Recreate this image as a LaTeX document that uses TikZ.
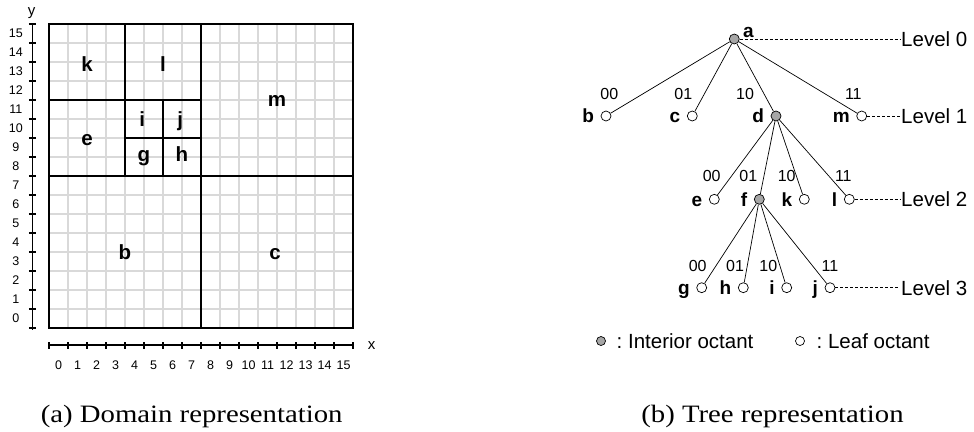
\documentclass[tikz,border=0pt]{standalone}
\usepackage{fontspec}
\setmainfont{Liberation Serif}
\setsansfont{Liberation Sans}
\usetikzlibrary{positioning}
\definecolor{gridgray}{RGB}{217,217,217}
\frenchspacing

\begin{document}
\begin{tikzpicture}[
    x=1pt, y=-1pt,
    leaf node/.style={circle, draw, fill=white, minimum size=10pt, inner sep=0pt, line width=0.7pt},
    inner node/.style={leaf node, fill=gray!70},
    name label/.style={font=\sffamily\bfseries\fontsize{19}{21}\selectfont, inner sep=0pt, text height=13.5pt, text depth=0pt},
    region label/.style={font=\sffamily\bfseries\fontsize{20.5}{23}\selectfont, inner sep=0pt, anchor=base},
    bit label/.style={font=\sffamily\fontsize{16}{18}\selectfont, inner sep=0pt},
    level label/.style={font=\sffamily\fontsize{20.5}{24}\selectfont, inner sep=1pt, anchor=west},
    key text/.style={font=\sffamily\fontsize{20.5}{24}\selectfont, inner sep=0pt, anchor=west},
    axis label/.style={font=\sffamily\fontsize{12.5}{14}\selectfont, inner sep=0pt},
    caption/.style={font=\fontsize{25}{30}\selectfont, inner sep=0pt, anchor=base},
    level line/.style={dash pattern=on 3pt off 2pt, line width=0.6pt},
    tree edge/.style={line width=0.7pt}
]
    \useasboundingbox (0,0) rectangle (974,431);

    % Domain representation
    \begin{scope}[shift={(49,328)}, x=19pt, y=19pt]
        \foreach \k in {0,...,16} {
            \draw[gridgray, line width=2.2pt] (\k,0) -- (\k,16);
            \draw[gridgray, line width=2.2pt] (0,\k) -- (16,\k);
        }
        \draw[line width=2pt] (0,0) rectangle (16,16);
        \draw[line width=1.8pt] (8,0) -- (8,16) (0,8) -- (16,8);
        \draw[line width=1.8pt] (0,12) -- (8,12) (4,8) -- (4,16);
        \draw[line width=1.8pt] (6,8) -- (6,12) (4,10) -- (8,10);

        \node[region label] (rk) at (2,13.49) {k};
        \node[region label] (rl) at (6,13.49) {l};
        \node[region label] (rm) at (12,11.68) {m};
        \node[region label] (re) at (2,9.63) {e};
        \node[region label] (ri) at (4.9,10.6) {i};
        \node[region label] (rj) at (6.9,10.6) {j};
        \node[region label] (rg) at (5,8.77) {g};
        \node[region label] (rh) at (7,8.77) {h};
        \node[region label] (rb) at (4,3.6) {b};
        \node[region label] (rc) at (11.9,3.6) {c};

        % axes
        \draw[line width=1.4pt] (-0.88,-0.1) -- (-0.88,16);
        \foreach \k in {0,...,16}
            \draw[line width=1.2pt] (-0.88,\k) +(-3.5pt,0) -- +(3.5pt,0);
        \foreach \k in {0,...,15}
            \node[axis label] (ylab\k) at (-1.74,\k+0.5) {\k};
        \node[axis label, font=\sffamily\fontsize{15}{17}\selectfont] (ylab) at (-0.91,16.6) {y};

        \draw[line width=1.4pt] (-0.04,-0.895) -- (16.05,-0.895);
        \foreach \k in {0,...,16}
            \draw[line width=1.2pt] (\k,-0.895) +(0,-3.5pt) -- +(0,3.5pt);
        \foreach \k in {0,...,15}
            \node[axis label] (xlab\k) at (\k+0.5,-1.95) {\k};
        \node[axis label, font=\sffamily\fontsize{15}{17}\selectfont] (xlab) at (16.98,-0.93) {x};
    \end{scope}

    % Tree representation
    \node[inner node] (ta) at (734.3,39) {};
    \node[leaf node] (tb) at (606,116) {};
    \node[leaf node] (tc) at (692.3,116) {};
    \node[inner node] (td) at (776,116) {};
    \node[leaf node] (tm) at (861.7,116) {};
    \node[leaf node] (te) at (714.3,199.3) {};
    \node[inner node] (tf) at (759.3,199.3) {};
    \node[leaf node] (tk) at (804.3,199.3) {};
    \node[leaf node] (tl) at (849.3,199.3) {};
    \node[leaf node] (tg) at (701.7,287.7) {};
    \node[leaf node] (th) at (743.3,287.7) {};
    \node[leaf node] (ti) at (786.7,287.7) {};
    \node[leaf node] (tj) at (830,287.7) {};

    \node[name label, anchor=base west] (la) at (743,37) {a};
    \node[name label, left=6.5pt of tb] (lb) {b};
    \node[name label, left=6.5pt of tc] (lc) {c};
    \node[name label, left=6.5pt of td] (ld) {d};
    \node[name label, left=6.5pt of tm] (lm) {m};
    \node[name label, left=6.5pt of te] (le) {e};
    \node[name label, left=6.5pt of tf] (lf) {f};
    \node[name label, left=6.5pt of tk] (lk) {k};
    \node[name label, left=6.5pt of tl] (ll) {l};
    \node[name label, left=6.5pt of tg] (lg) {g};
    \node[name label, left=6.5pt of th] (lh) {h};
    \node[name label, left=6.5pt of ti] (li) {i};
    \node[name label, left=6.5pt of tj] (lj) {j};

    \draw[tree edge] (ta) -- (tb);
    \draw[tree edge] (ta) -- (tc);
    \draw[tree edge] (ta) -- (td);
    \draw[tree edge] (ta) -- (tm);
    \draw[tree edge] (td) -- (te);
    \draw[tree edge] (td) -- (tf);
    \draw[tree edge] (td) -- (tk);
    \draw[tree edge] (td) -- (tl);
    \draw[tree edge] (tf) -- (tg);
    \draw[tree edge] (tf) -- (th);
    \draw[tree edge] (tf) -- (ti);
    \draw[tree edge] (tf) -- (tj);

    \node[bit label] (bab) at (609.3,94) {00};
    \node[bit label] (bac) at (683.3,94) {01};
    \node[bit label] (bad) at (745,94) {10};
    \node[bit label] (bam) at (853.3,94) {11};
    \node[bit label] (bde) at (711.7,176) {00};
    \node[bit label] (bdf) at (748.3,176) {01};
    \node[bit label] (bdk) at (786.7,176) {10};
    \node[bit label] (bdl) at (843.3,176) {11};
    \node[bit label] (bfg) at (697.7,266) {00};
    \node[bit label] (bfh) at (735,266) {01};
    \node[bit label] (bfi) at (768.3,266) {10};
    \node[bit label] (bfj) at (830,266) {11};

    % levels
    \node[level label] (lev0) at (900,39) {Level 0};
    \node[level label] (lev1) at (900,116) {Level 1};
    \node[level label] (lev2) at (900,199.3) {Level 2};
    \node[level label] (lev3) at (900,287.7) {Level 3};
    \draw[level line] (ta) -- (lev0);
    \draw[level line] (tm) -- (lev1);
    \draw[level line] (tl) -- (lev2);
    \draw[level line] (tj) -- (lev3);

    % key
    \node[inner node, minimum size=9pt] (keyint) at (601,341) {};
    \node[key text] (keyinttext) at (616.5,341) {: Interior octant};
    \node[leaf node, minimum size=9pt] (keyleaf) at (800,341) {};
    \node[key text] (keyleaftext) at (816.5,341) {: Leaf octant};

    % captions
    \node[caption] (capa) at (191.7,422) {\scalebox{1.15}[1]{(a) Domain representation}};
    \node[caption] (capb) at (772.5,422) {\scalebox{1.15}[1]{(b) Tree representation}};
\end{tikzpicture}
\end{document}
